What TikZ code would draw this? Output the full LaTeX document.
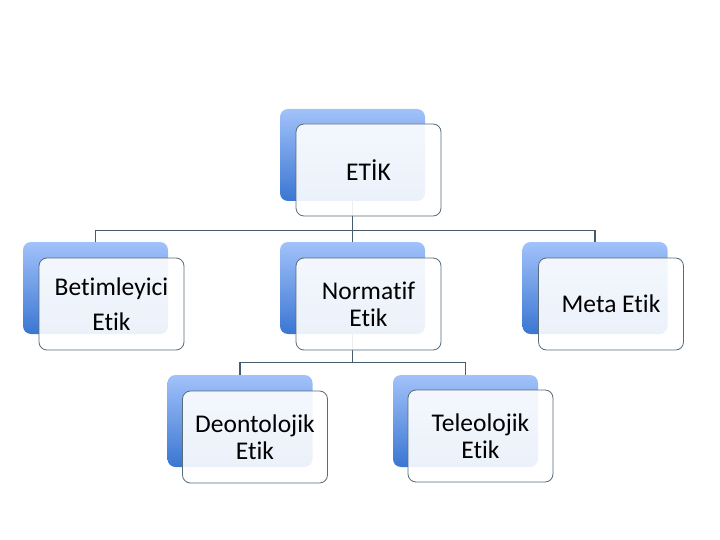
\documentclass[tikz,border=0pt]{standalone}
\usepackage{fontspec}
\setmainfont{Carlito}[Ligatures=NoCommon]
\usepackage{tikz}
\usetikzlibrary{positioning, calc}

\definecolor{arkaUst}{RGB}{162,194,250}
\definecolor{arkaAlt}{RGB}{58,118,210}
\definecolor{kenar}{RGB}{88,108,124}
\definecolor{cizgi}{RGB}{70,92,110}

\begin{document}
\begin{tikzpicture}[
  x=1pt, y=-1pt,
  arka/.style={rounded corners=8pt, minimum width=145pt, minimum height=92pt,
               top color=arkaUst, bottom color=arkaAlt, inner sep=0pt},
  on/.style={draw=kenar, line width=0.8pt, rounded corners=8pt, fill=white, fill opacity=0.9,
             text opacity=1, minimum width=145pt, minimum height=92pt, align=center,
             font=\fontsize{25.5}{27}\selectfont, inner sep=0pt},
  baglanti/.style={draw=cizgi, line width=1.2pt}
]
\useasboundingbox (0,0) rectangle (720,540);

% arka kutular
\node[arka] (etikB) at (352.5,155) {};
\node[arka] (betimB) at (95.5,288) {};
\node[arka] (normB) at (352.5,288) {};
\node[arka] (metaB) at (595,288) {};
\node[arka] (deonB) at (240,421) {};
\node[arka] (teleB) at (465.5,421) {};

% baglantilar
\draw[baglanti] (etikB.south) -- ++(0,29) -| (betimB.north);
\draw[baglanti] (etikB.south) -- (normB.north);
\draw[baglanti] (etikB.south) -- ++(0,29) -| (metaB.north);
\draw[baglanti] (normB.south) -- ++(0,28) -| (deonB.north);
\draw[baglanti] (normB.south) -- ++(0,28) -| (teleB.north);

% on kutular
\node[on] (etik) at ([shift={(16,15)}]etikB.center) {ETİK};
\node[on] (betim) at ([shift={(16,16)}]betimB.center) {Betimleyici\\[8pt]Etik};
\node[on] (norm) at ([shift={(16,16)}]normB.center) {Normatif\\Etik};
\node[on] (meta) at ([shift={(16,16)}]metaB.center) {Meta Etik};
\node[on] (deon) at ([shift={(15,16)}]deonB.center) {Deontolojik\\Etik};
\node[on] (tele) at ([shift={(15,15)}]teleB.center) {Teleolojik\\Etik};
\end{tikzpicture}
\end{document}
